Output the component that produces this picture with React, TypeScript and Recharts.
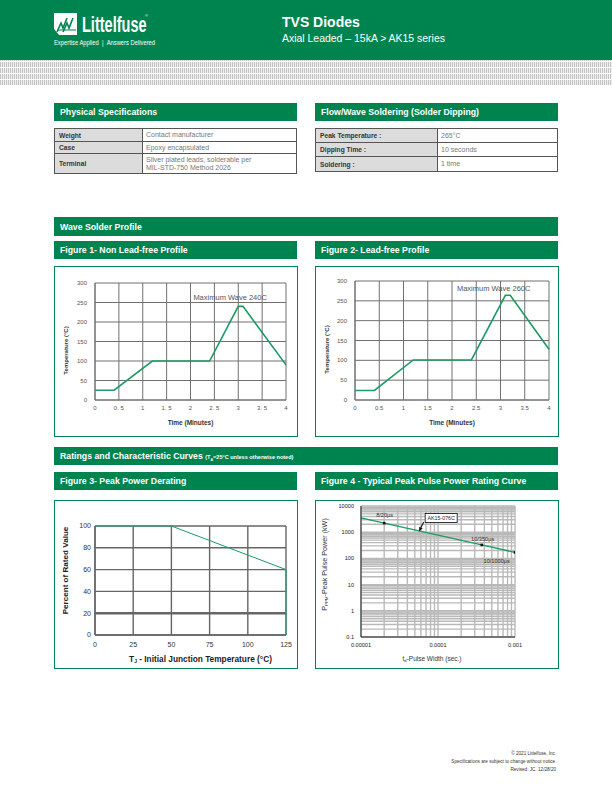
import React from 'react';
import {
  LineChart,
  Line,
  XAxis,
  YAxis,
  CartesianGrid,
  ReferenceDot,
  ReferenceLine,
  Label,
} from 'recharts';

// ---------------- Data ----------------
// Figure 1 - Non lead-free profile
const fig1Time = [0, 0.4, 1.2, 2.4, 3.0, 3.1, 4.0];
const fig1Temp = [25, 25, 100, 100, 240, 240, 90];
const fig1TimeLabels = ['0', '0. 5', '1', '1. 5', '2', '2. 5', '3', '3. 5', '4'];

// Figure 2 - Lead-free profile
const fig2Time = [0, 0.4, 1.2, 2.4, 3.1, 3.2, 4.0];
const fig2Temp = [24, 24, 101, 101, 264, 264, 128];
const fig2TimeLabels = ['0', '0.5', '1', '1.5', '2', '2.5', '3', '3.5', '4'];

const profileTimeTicks = [0, 0.5, 1, 1.5, 2, 2.5, 3, 3.5, 4];
const profileTempTicks = [0, 50, 100, 150, 200, 250, 300];

// Figure 3 - Peak power derating
const fig3Temp = [0, 50, 125, 125];
const fig3Percent = [100, 100, 60, 0];
const deratingXTicks = [0, 25, 50, 75, 100, 125];
const deratingYTicks = [0, 20, 40, 60, 80, 100];

// Figure 4 - Peak pulse power rating curve
const fig4Width = [0.00001, 0.00002, 0.00037, 0.001];
const fig4Power = [3500, 2220, 327, 170];
const fig4Marked = [false, true, true, true];
const fig4YDecades = [0.1, 1, 10, 100, 1000, 10000];
const fig4YLabels = ['0.1', '1', '10', '100', '1000', '10000'];
const fig4XDecades = [0.00001, 0.0001, 0.001];
const fig4XLabels = ['0.00001', '0.0001', '0.001'];
const fig4NoteText = ['8/20µs', '10/350µs', '10/1000µs'];
const fig4NoteWidth = [0.0000203, 0.00038, 0.000578];
const fig4NotePower = [4570, 550, 79];

// Tables
const physLabels = ['Weight', 'Case', 'Terminal'];
const physValues = [['Contact manufacturer'], ['Epoxy encapsulated'], ['Silver plated leads, solderable per', 'MIL-STD-750 Method 2026']];
const flowLabels = ['Peak Temperature :', 'Dipping Time :', 'Soldering :'];
const flowValues = [['265°C'], ['10 seconds'], ['1 time']];

// ---------------- Styles ----------------
const GREEN = '#00844f';
const LINE_GREEN = '#1b9a63';
const SANS = "'Liberation Sans', Arial, sans-serif";

const Cond = ({ children, s = 0.92, origin = 'left' }: any) => (
  <span
    style={{
      display: 'inline-block',
      transform: `scaleX(${s})`,
      transformOrigin: `${origin} center`,
      whiteSpace: 'nowrap',
    }}
  >
    {children}
  </span>
);

const Bar = ({ x, y, w, h, children }: any) => (
  <div
    style={{
      position: 'absolute',
      left: x,
      top: y,
      width: w,
      height: h,
      background: GREEN,
      color: '#fff',
      fontFamily: SANS,
      fontWeight: 'bold',
      fontSize: 9.5,
      lineHeight: `${h}px`,
      paddingLeft: 6,
      boxSizing: 'border-box',
      overflow: 'hidden',
      whiteSpace: 'nowrap',
    }}
  >
    <Cond>{children}</Cond>
  </div>
);

const Frame = ({ x, y, w, h }: any) => (
  <div
    style={{
      position: 'absolute',
      left: x,
      top: y,
      width: w,
      height: h,
      border: `1.5px solid ${GREEN}`,
      boxSizing: 'border-box',
      pointerEvents: 'none',
    }}
  />
);

const Table = ({ x, y, w, colW, rowHs, labels, values }: any) => (
  <div
    style={{
      position: 'absolute',
      left: x,
      top: y,
      width: w,
      borderTop: '1px solid #555',
      borderLeft: '1px solid #555',
      boxSizing: 'border-box',
      fontFamily: SANS,
      fontSize: 7,
    }}
  >
    {labels.map((lab: string, i: number) => (
      <div key={lab} style={{ display: 'flex', height: rowHs[i] }}>
        <div
          style={{
            width: colW,
            background: '#dcdcdc',
            borderRight: '1px solid #555',
            borderBottom: '1px solid #555',
            boxSizing: 'border-box',
            display: 'flex',
            alignItems: 'center',
            paddingLeft: 4,
            fontWeight: 'bold',
            color: '#333',
          }}
        >
          <Cond s={0.95}>{lab}</Cond>
        </div>
        <div
          style={{
            flex: 1,
            borderRight: '1px solid #555',
            borderBottom: '1px solid #555',
            boxSizing: 'border-box',
            display: 'flex',
            alignItems: 'center',
            paddingLeft: 3,
            color: '#777',
            lineHeight: '7.5px',
          }}
        >
          <Cond s={1}>
            {values[i].map((v: string, k: number) => (
              <React.Fragment key={k}>
                {k > 0 && <br />}
                {v}
              </React.Fragment>
            ))}
          </Cond>
        </div>
      </div>
    ))}
  </div>
);

// ---------------- Charts ----------------
const tickStyle = { fontSize: 6, fill: '#555', fontFamily: SANS };

function ProfileChart({ time, temp, labels, note, noteX, noteY, m }: any) {
  const data = time.map((t: number, i: number) => ({ t, v: temp[i] }));
  return (
    <LineChart
      width={244}
      height={171}
      data={data}
      margin={{ top: m.top, right: m.right, bottom: m.bottom - 26, left: 4 }}
    >
      <CartesianGrid stroke="#707070" strokeWidth={1} />
      <XAxis
        type="number"
        dataKey="t"
        domain={[0, 4]}
        ticks={profileTimeTicks}
        interval={0}
        tickFormatter={(_v: number, i: number) => labels[i]}
        height={26}
        axisLine={{ stroke: '#707070' }}
        tickLine={false}
        tickSize={4}
        tickMargin={2}
        tick={tickStyle}
      >
        <Label
          content={(p: any) => (
            <text
              x={p.viewBox.x + p.viewBox.width / 2}
              y={p.viewBox.y + 22}
              textAnchor="middle"
              dominantBaseline="central"
              style={{ fontSize: 6.5, fontWeight: 'bold', fill: '#333', fontFamily: SANS }}
            >
              Time (Minutes)
            </text>
          )}
        />
      </XAxis>
      <YAxis
        type="number"
        domain={[0, 300]}
        ticks={profileTempTicks}
        interval={0}
        width={m.left - 4}
        axisLine={{ stroke: '#707070' }}
        tickLine={false}
        tickSize={6}
        tickMargin={2}
        tick={tickStyle}
      >
        <Label
          content={(p: any) => {
            const cx = p.viewBox.x + 8;
            const cy = p.viewBox.y + p.viewBox.height / 2 + 9;
            return (
              <text
                x={cx}
                y={cy}
                transform={`rotate(-90, ${cx}, ${cy})`}
                textAnchor="middle"
                dominantBaseline="central"
                style={{ fontSize: 6, fontWeight: 'bold', fill: '#333', fontFamily: SANS }}
              >
                Temperature (°C)
              </text>
            );
          }}
        />
      </YAxis>
      <Line
        type="linear"
        dataKey="v"
        stroke={LINE_GREEN}
        strokeWidth={1.6}
        dot={false}
        isAnimationActive={false}
      />
      <ReferenceDot
        x={noteX}
        y={noteY}
        r={0}
        fill="none"
        stroke="none"
        label={{ value: note, position: 'center', fontSize: 7.5, fill: '#555', fontFamily: SANS }}
      />
    </LineChart>
  );
}

function DeratingChart() {
  const data = fig3Temp.map((t, i) => ({ t, p: fig3Percent[i] }));
  const t7 = { fontSize: 7, fill: '#333', fontFamily: SANS };
  return (
    <LineChart width={244} height={169} data={data} margin={{ top: 26, right: 12, bottom: 6, left: 4 }}>
      <CartesianGrid stroke="#666" strokeWidth={1.4} />
      <ReferenceLine y={20} stroke="#666" strokeWidth={2.6} />
      <XAxis
        type="number"
        dataKey="t"
        domain={[0, 125]}
        ticks={deratingXTicks}
        interval={0}
        height={28}
        axisLine={{ stroke: '#666', strokeWidth: 1.4 }}
        tickLine={false}
        tickSize={4}
        tickMargin={3}
        tick={t7}
      >
        <Label
          content={(p: any) => (
            <text
              x={p.viewBox.x + p.viewBox.width / 2 + 10}
              y={p.viewBox.y + 24}
              textAnchor="middle"
              dominantBaseline="central"
              style={{ fontSize: 8.3, fontWeight: 'bold', fill: '#222', fontFamily: SANS }}
            >
              T<tspan fontSize={5} dy={1.8}>J</tspan>
              <tspan dy={-1.8}> - Initial Junction Temperature (°C)</tspan>
            </text>
          )}
        />
      </XAxis>
      <YAxis
        type="number"
        domain={[0, 100]}
        ticks={deratingYTicks}
        interval={0}
        width={37}
        axisLine={{ stroke: '#666', strokeWidth: 1.4 }}
        tickLine={false}
        tickSize={2}
        tickMargin={2}
        tick={t7}
      >
        <Label
          content={(p: any) => {
            const cx = p.viewBox.x + 7;
            const cy = p.viewBox.y + p.viewBox.height / 2 - 10;
            return (
              <text
                x={cx}
                y={cy}
                transform={`rotate(-90, ${cx}, ${cy})`}
                textAnchor="middle"
                dominantBaseline="central"
                style={{ fontSize: 8.1, fontWeight: 'bold', fill: '#222', fontFamily: SANS }}
              >
                Percent of Rated Value
              </text>
            );
          }}
        />
      </YAxis>
      <Line type="linear" dataKey="p" stroke={LINE_GREEN} strokeWidth={1} dot={false} isAnimationActive={false} />
    </LineChart>
  );
}

const minorTicks = (decades: number[]) => {
  const out: number[] = [];
  decades.forEach((d, i) => {
    if (i < decades.length - 1) {
      for (let k = 1; k < 10; k++) out.push(+(d * k).toPrecision(6));
    } else out.push(d);
  });
  return out;
};
const labelFor = (decades: number[], labels: string[]) => (v: number) => {
  const i = decades.findIndex((d) => Math.abs(v - d) / d < 1e-6);
  return i >= 0 ? labels[i] : '';
};

const ArrowShape = (p: any) => {
  const { x1, y1, x2, y2 } = p;
  const ang = Math.atan2(y2 - y1, x2 - x1);
  const L = 4.5;
  const W = 1.9;
  const bx = x2 - L * Math.cos(ang);
  const by = y2 - L * Math.sin(ang);
  const px = -Math.sin(ang) * W;
  const py = Math.cos(ang) * W;
  return (
    <g>
      <line x1={x1} y1={y1} x2={bx} y2={by} stroke="#111" strokeWidth={1.1} />
      <polygon points={`${x2},${y2} ${bx + px},${by + py} ${bx - px},${by - py}`} fill="#111" />
    </g>
  );
};

const MarkDot = (props: any) => {
  const { cx, cy, payload, index } = props;
  if (!payload || !payload.mark) return <g key={`d${index}`} />;
  return <rect key={`d${index}`} x={cx - 1.3} y={cy - 1.3} width={2.6} height={2.6} fill="#111" />;
};

function PulseChart() {
  const data = fig4Width.map((w, i) => ({ w, p: fig4Power[i], mark: fig4Marked[i] }));
  const t = { fontSize: 5.6, fill: '#222', fontFamily: SANS };
  return (
    <LineChart width={244} height={169} data={data} margin={{ top: 6, right: 44, bottom: 6, left: 4 }}>
      <CartesianGrid stroke="#b9b9b9" strokeWidth={1.4} />
      <XAxis
        type="number"
        dataKey="w"
        scale="log"
        domain={[0.00001, 0.001]}
        allowDataOverflow
        ticks={minorTicks(fig4XDecades)}
        interval={0}
        tickFormatter={labelFor(fig4XDecades, fig4XLabels)}
        height={26}
        axisLine={{ stroke: '#222', strokeWidth: 1 }}
        tickLine={false}
        tickSize={4}
        tickMargin={2}
        tick={t}
      >
        <Label
          content={(p: any) => (
            <text
              x={p.viewBox.x + p.viewBox.width / 2 - 6}
              y={p.viewBox.y + 21}
              textAnchor="middle"
              dominantBaseline="central"
              style={{ fontSize: 6.5, fill: '#333', fontFamily: SANS }}
            >
              t<tspan fontSize={4.2} dy={1.5}>d</tspan>
              <tspan dy={-1.5}>-Pulse Width (sec.)</tspan>
            </text>
          )}
        />
      </XAxis>
      <YAxis
        type="number"
        scale="log"
        domain={[0.1, 10000]}
        allowDataOverflow
        ticks={minorTicks(fig4YDecades)}
        interval={0}
        tickFormatter={labelFor(fig4YDecades, fig4YLabels)}
        width={42}
        axisLine={{ stroke: '#222', strokeWidth: 1 }}
        tickLine={false}
        tickSize={5}
        tickMargin={2}
        tick={t}
      >
        <Label
          content={(p: any) => {
            const cx = p.viewBox.x + 5;
            const cy = p.viewBox.y + p.viewBox.height / 2 - 7;
            return (
              <text
                x={cx}
                y={cy}
                transform={`rotate(-90, ${cx}, ${cy})`}
                textAnchor="middle"
                dominantBaseline="central"
                style={{ fontSize: 7.2, fill: '#333', fontFamily: SANS }}
              >
                P<tspan fontSize={4.4} dy={1.6}>PPM</tspan>
                <tspan dy={-1.6}>-Peak Pulse Power (kW)</tspan>
              </text>
            );
          }}
        />
      </YAxis>
      <Line
        type="linear"
        dataKey="p"
        stroke={LINE_GREEN}
        strokeWidth={1.3}
        dot={MarkDot}
        activeDot={false}
        isAnimationActive={false}
      />
      {fig4NoteText.map((txt, i) => (
        <ReferenceDot
          key={txt}
          x={fig4NoteWidth[i]}
          y={fig4NotePower[i]}
          r={0}
          fill="none"
          stroke="none"
          label={{ value: txt, position: 'center', fontSize: 5.6, fill: '#333', fontFamily: SANS }}
        />
      ))}
      <ReferenceLine
        segment={[
          { x: 0.0000652, y: 2450 },
          { x: 0.0000566, y: 1060 },
        ]}
        stroke="#111"
        shape={ArrowShape}
      />
      <ReferenceDot
        x={0.00011}
        y={3470}
        r={0}
        fill="none"
        stroke="none"
        label={{
          content: (p: any) => {
            const cx = p.viewBox.x + p.viewBox.width / 2;
            const cy = p.viewBox.y + p.viewBox.height / 2;
            return (
              <g>
                <rect x={cx - 16} y={cy - 4.5} width={32} height={9} fill="#fff" stroke="#222" strokeWidth={0.9} />
                <text
                  x={cx}
                  y={cy}
                  textAnchor="middle"
                  dominantBaseline="central"
                  style={{ fontSize: 5.3, fill: '#222', fontFamily: SANS }}
                >
                  AK15-076C
                </text>
              </g>
            );
          },
        }}
      />
    </LineChart>
  );
}

// ---------------- Page ----------------
const abs = (x: number, y: number, extra: any = {}) => ({ position: 'absolute' as const, left: x, top: y, ...extra });

export default function App() {
  return (
    <div
      style={{
        position: 'absolute',
        left: 0,
        top: 0,
        width: 612,
        height: 792,
        background: '#fff',
        overflow: 'hidden',
        fontFamily: SANS,
      }}
    >
      {/* Header */}
      <div style={abs(0, 0, { width: 612, height: 60, background: GREEN })} />
      <svg style={abs(54, 13)} width={23} height={22} viewBox="0 0 23 22">
        <polygon points="0,0 23,0 23,22 5,22 0,16" fill="#fff" />
        <polyline points="3,19 7,10 9,15 13,5" fill="none" stroke={GREEN} strokeWidth={1.6} />
        <polyline points="9,19 13,10 15,15 19,5" fill="none" stroke={GREEN} strokeWidth={1.6} />
        <line x1={4} y1={17} x2={22} y2={17} stroke={GREEN} strokeWidth={1} />
      </svg>
      <div style={abs(82, 14, { color: '#fff', fontSize: 22, fontWeight: 'bold', lineHeight: '22px' })}>
        <Cond s={0.66}>Littelfuse</Cond>
      </div>
      <div style={abs(145, 14, { color: '#fff', fontSize: 4, lineHeight: '4px' })}>®</div>
      <div style={abs(54, 39, { color: '#fff', fontSize: 6.3, lineHeight: '7px' })}>
        <Cond s={0.92}>Expertise Applied&nbsp;&nbsp;|&nbsp;&nbsp;Answers Delivered</Cond>
      </div>
      <div style={abs(282, 15, { color: '#fff', fontSize: 14, fontWeight: 'bold', lineHeight: '14px' })}>TVS Diodes</div>
      <div style={abs(282, 33, { color: '#fff', fontSize: 11, lineHeight: '11px' })}>
        <Cond s={0.95}>Axial Leaded – 15kA &gt; AK15 series</Cond>
      </div>
      <div
        style={abs(0, 60, {
          width: 612,
          height: 25,
          backgroundColor: '#f2f2f2',
          backgroundImage:
            'repeating-linear-gradient(0deg, transparent 0px, transparent 5px, #ffffff 5px, #ffffff 6px), repeating-linear-gradient(90deg, #c4c4c4 0px, #c4c4c4 1px, #efefef 1px, #efefef 2px)',
        })}
      />

      {/* Specification tables */}
      <Bar x={54} y={103} w={243} h={18}>Physical Specifications</Bar>
      <Bar x={315} y={103} w={243} h={18}>Flow/Wave Soldering (Solder Dipping)</Bar>
      <Table x={54} y={128} w={243} colW={88} rowHs={[13, 12, 20]} labels={physLabels} values={physValues} />
      <Table x={315} y={128} w={243} colW={122} rowHs={[14, 14, 15]} labels={flowLabels} values={flowValues} />

      {/* Wave solder profile */}
      <Bar x={54} y={217} w={504} h={19}>Wave Solder Profile</Bar>
      <Bar x={54} y={241} w={243} h={18}>Figure 1- Non Lead-free Profile</Bar>
      <Bar x={315} y={241} w={243} h={18}>Figure 2- Lead-free Profile</Bar>

      <div style={abs(54, 266)}>
        <ProfileChart
          time={fig1Time}
          temp={fig1Temp}
          labels={fig1TimeLabels}
          note="Maximum Wave 240C"
          noteX={2.83}
          noteY={264}
          m={{ top: 17, right: 12, bottom: 37, left: 41 }}
        />
      </div>
      <Frame x={54} y={266} w={244} h={171} />
      <div style={abs(315, 266)}>
        <ProfileChart
          time={fig2Time}
          temp={fig2Temp}
          labels={fig2TimeLabels}
          note="Maximum Wave 260C"
          noteX={2.86}
          noteY={282}
          m={{ top: 15, right: 10, bottom: 37, left: 40 }}
        />
      </div>
      <Frame x={315} y={266} w={244} h={171} />

      {/* Ratings */}
      <div
        style={abs(54, 447, {
          width: 504,
          height: 18,
          background: GREEN,
          color: '#fff',
          fontWeight: 'bold',
          fontSize: 9.5,
          lineHeight: '18px',
          paddingLeft: 6,
          boxSizing: 'border-box',
          whiteSpace: 'nowrap',
        })}
      >
        <Cond>
          Ratings and Characteristic Curves{' '}
          <span style={{ fontSize: 6 }}>
            (T<sub style={{ fontSize: 4 }}>A</sub>=25°C unless otherwise noted)
          </span>
        </Cond>
      </div>
      <Bar x={54} y={472} w={243} h={18}>Figure 3- Peak Power Derating</Bar>
      <Bar x={315} y={472} w={243} h={18}>Figure 4 - Typical Peak Pulse Power Rating Curve</Bar>

      <div style={abs(54, 500)}>
        <DeratingChart />
      </div>
      <Frame x={54} y={500} w={244} h={169} />
      <div style={abs(315, 500)}>
        <PulseChart />
      </div>
      <Frame x={315} y={500} w={244} h={169} />

      {/* Footer */}
      <div
        style={abs(356, 749, {
          width: 200,
          textAlign: 'right',
          fontSize: 5.8,
          lineHeight: '8px',
          color: '#333',
        })}
      >
        <div><Cond s={0.8} origin="right">© 2021 Littelfuse, Inc.</Cond></div>
        <div><Cond s={0.8} origin="right">Specifications are subject to change without notice.</Cond></div>
        <div><Cond s={0.8} origin="right">Revised: JC. 12/28/20</Cond></div>
      </div>
    </div>
  );
}
